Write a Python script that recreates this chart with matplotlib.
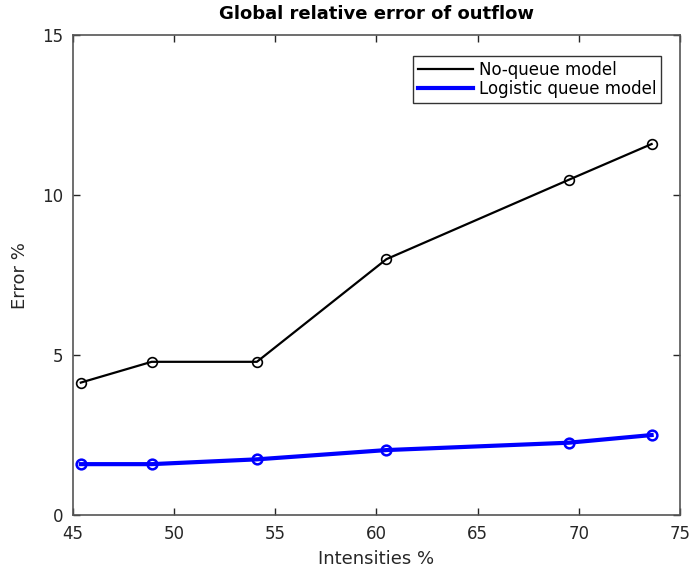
import matplotlib
matplotlib.use("Agg")
import matplotlib.pyplot as plt

# Intensities (%) and global outflow error (%) for the two models
intensities = [45.4, 48.9, 54.1, 60.5, 69.5, 73.6]
err_no_queue = [4.14, 4.79, 4.79, 8.0, 10.48, 11.6]
err_logistic = [1.59, 1.59, 1.74, 2.03, 2.26, 2.5]

axis_grey = "#262626"

fig = plt.figure(figsize=(6.91, 5.74), dpi=100)
ax = fig.add_axes([0.1052, 0.1028, 0.8788, 0.8357])

ax.plot(intensities, err_no_queue, color="black", lw=1.6, marker="o",
        ms=7, mfc="none", mec="black", mew=1.2, label="No-queue model")
ax.plot(intensities, err_logistic, color="blue", lw=3, marker="o",
        ms=7, mfc="none", mec="blue", mew=1.8, label="Logistic queue model")

ax.set_xlim(45, 75)
ax.set_ylim(0, 15)
ax.set_xticks([45, 50, 55, 60, 65, 70, 75])
ax.set_yticks([0, 5, 10, 15])

ax.tick_params(direction="in", length=5, width=1, top=True, right=True,
               colors=axis_grey, labelsize=12, pad=7)
for s in ax.spines.values():
    s.set_color("#555555")
    s.set_linewidth(1.2)

ax.set_xlabel("Intensities %", fontsize=13, color=axis_grey, labelpad=5)
ax.set_ylabel("Error %", fontsize=13, color=axis_grey, labelpad=9)
ax.set_title("Global relative error of outflow", fontsize=13,
             fontweight="bold", pad=12)

leg = ax.legend(loc="upper right", bbox_to_anchor=(0.983, 0.975), fontsize=12,
                handlelength=3.3, handletextpad=0.35, borderpad=0.3,
                labelspacing=0.1, fancybox=False, framealpha=1)
leg.get_frame().set_edgecolor("#333333")
leg.get_frame().set_linewidth(1)
for h in leg.get_lines():
    h.set_marker("")

fig.savefig("out.png", dpi=100)
